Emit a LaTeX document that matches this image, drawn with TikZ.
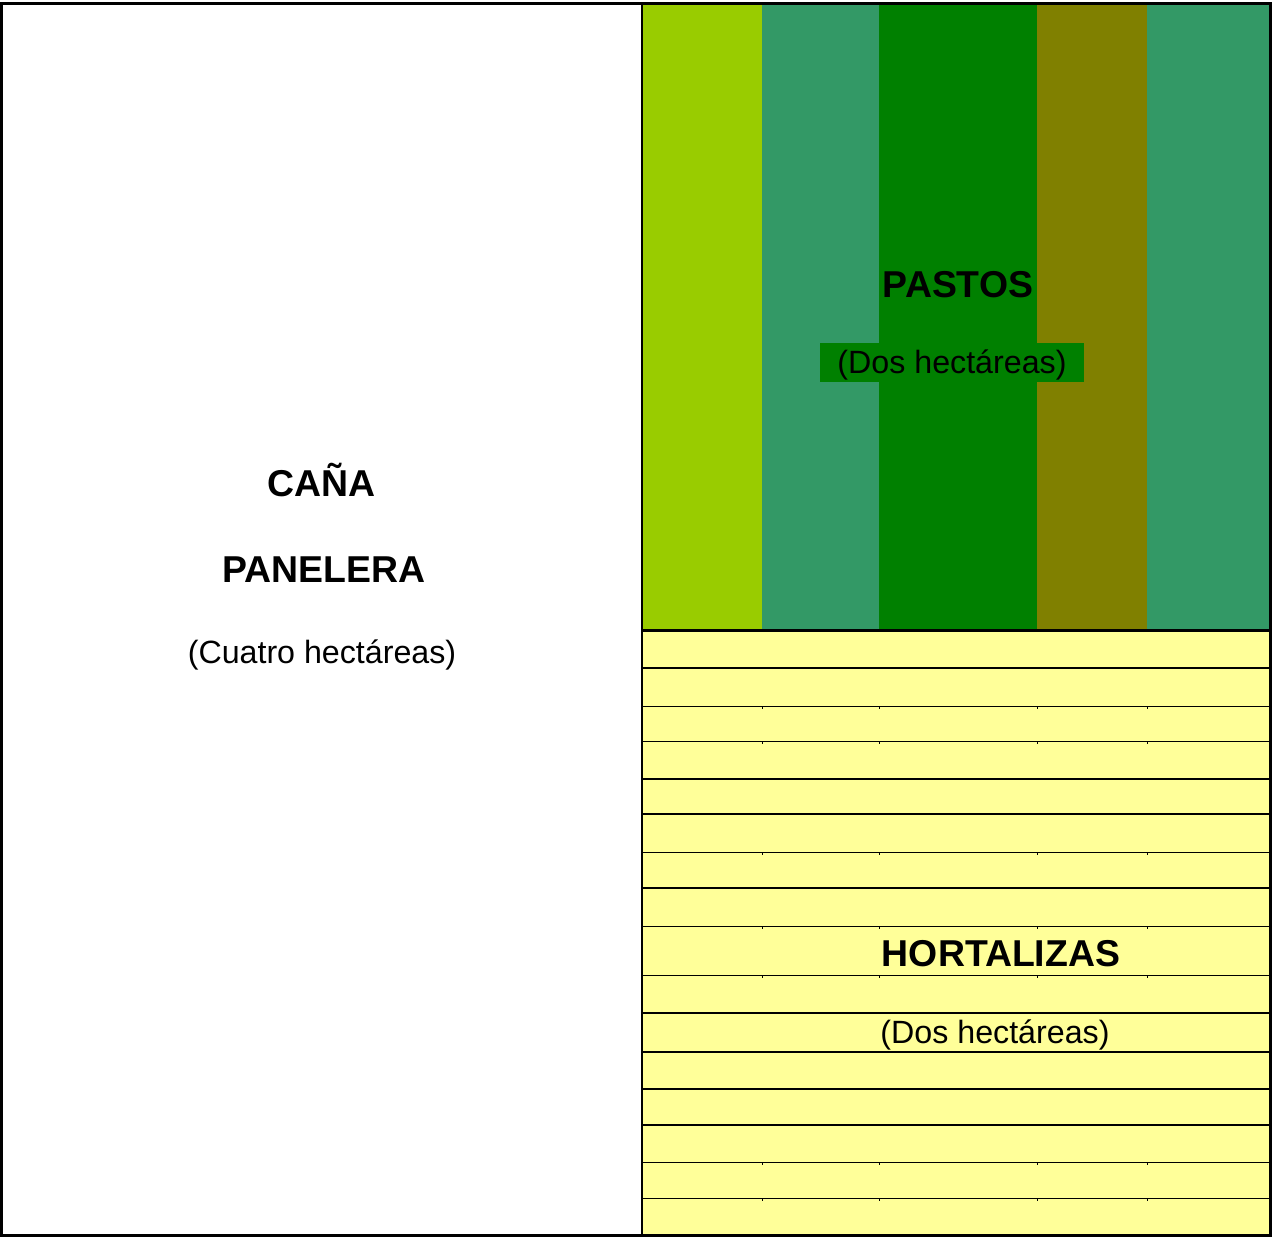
\documentclass[tikz,border=0pt]{standalone}
\usepackage{fontspec}
\setmainfont{Liberation Sans}
\definecolor{pastoA}{HTML}{99CC00}
\definecolor{pastoB}{HTML}{339966}
\definecolor{pastoC}{HTML}{008000}
\definecolor{pastoD}{HTML}{808000}
\definecolor{hortaliza}{HTML}{FFFF99}

\begin{document}
\begin{tikzpicture}[x=0.5pt, y=-0.5pt,
        thickrule/.style = {draw=black, line width=1pt},
        thinrule/.style = {draw=black, line width=0.5pt},
        title/.style = {text=black, anchor=base, inner sep=0pt, font=\fontsize{18.7}{22}\selectfont\bfseries},
        area/.style = {text=black, anchor=base, inner sep=0pt, font=\fontsize{16.1}{19}\selectfont}]
    \useasboundingbox (0,0) rectangle (1272,1237);
    \fill[pastoA] (642,4) rectangle (762,629);
    \fill[pastoB] (762,4) rectangle (879,629);
    \fill[pastoC] (879,4) rectangle (1037,629);
    \fill[pastoD] (1037,4) rectangle (1147,629);
    \fill[pastoB] (1147,4) rectangle (1270,629);
    \fill[hortaliza] (642,629) rectangle (1270,1236);
    \foreach \y in {668,779,814,888,1013,1052,1089,1125}
        \draw[thickrule] (642,\y) -- (1270,\y);
    \foreach \y in {706,741,852,926,975,1162,1198} {
        \draw[thinrule] (642,\y) -- (1270,\y);
        \foreach \x in {762,879,1037,1147}
            \draw[thinrule] (\x,\y) -- (\x,\y+3);
    }
    \draw[line width=1pt] (642,3.5) -- (642,1235.5);
    \draw[line width=1.5pt] (642,630) -- (1270,630);
    \draw[line width=1.5pt] (1.5,3.5) rectangle (1270,1235.5);
    \node[title] (cana) at (322,496) {CAÑA};
    \node[title] (panelera) at (324,582) {PANELERA};
    \node[area] (canaarea) at (322,663) {(Cuatro hectáreas)};
    \node[title] (pastos) at (958,297) {PASTOS};
    \fill[pastoC] (820,343) rectangle (1084,382);
    \node[area] (pastosarea) at (952,373) {(Dos hectáreas)};
    \node[title] (hortalizas) at (1001,966) {HORTALIZAS};
    \node[area] (hortalizasarea) at (995,1043) {(Dos hectáreas)};
\end{tikzpicture}
\end{document}
